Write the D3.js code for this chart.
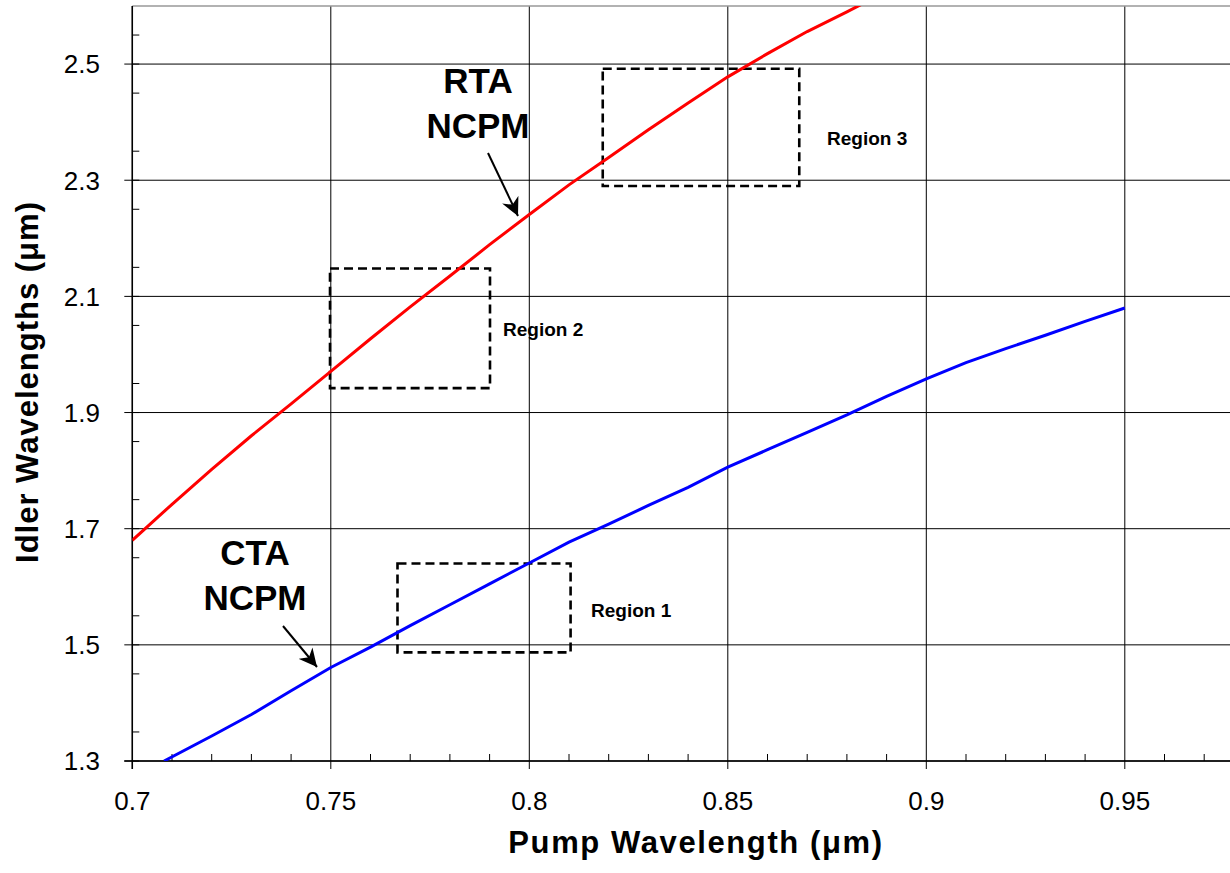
<!DOCTYPE html>
<html><head><meta charset="utf-8">
<script src="https://cdn.jsdelivr.net/npm/d3@7"></script>
<style>
body{margin:0;background:#fff;}
svg{display:block;font-family:"Liberation Sans",Arial,sans-serif;}
</style></head><body>
<svg id="c" width="1230" height="873"></svg>
<script>
// ---- data ----
const rtaPump  = [0.70,0.71,0.72,0.73,0.74,0.75,0.76,0.77,0.78,0.79,0.80,0.81,0.82,0.83,0.84,0.85,0.86,0.87,0.88,0.89];
const rtaIdler = [1.680,1.742,1.802,1.860,1.915,1.971,2.027,2.082,2.135,2.189,2.241,2.292,2.339,2.387,2.433,2.478,2.518,2.556,2.590,2.625];
const ctaPump  = [0.708,0.72,0.73,0.74,0.75,0.76,0.77,0.78,0.79,0.80,0.81,0.82,0.83,0.84,0.85,0.86,0.87,0.88,0.89,0.90,0.91,0.92,0.93,0.94,0.95];
const ctaIdler = [1.300,1.343,1.380,1.421,1.461,1.496,1.533,1.569,1.605,1.641,1.677,1.708,1.740,1.771,1.806,1.836,1.866,1.896,1.928,1.958,1.986,2.010,2.033,2.057,2.080];
const xTicks = [0.7,0.75,0.8,0.85,0.9,0.95];
const xTickLabels = ["0.7","0.75","0.8","0.85","0.9","0.95"];
const yTicks = [1.3,1.5,1.7,1.9,2.1,2.3,2.5];
const yTickLabels = ["1.3","1.5","1.7","1.9","2.1","2.3","2.5"];
const regionNames = ["Region 1","Region 2","Region 3"];
const regionX0 = [0.7668,0.7498,0.8185];
const regionX1 = [0.8104,0.7901,0.8680];
const regionY0 = [1.487,1.942,2.290];
const regionY1 = [1.640,2.148,2.492];
const seriesNames = [["CTA","NCPM"],["RTA","NCPM"]];

// ---- scales ----
const svg = d3.select("#c");
const x = d3.scaleLinear().domain([0.7,0.98]).range([132.3,132.3+0.28*3970]);
const y = d3.scaleLinear().domain([1.3,2.6]).range([761,6]);
const W = 1230;

const defs = svg.append("defs");
defs.append("clipPath").attr("id","clip").append("rect")
  .attr("x",x(0.7)).attr("y",y(2.6)).attr("width",W-x(0.7)).attr("height",y(1.3)-y(2.6));
defs.append("marker").attr("id","arr").attr("viewBox","0 0 10 10").attr("refX",10).attr("refY",5)
  .attr("markerWidth",18).attr("markerHeight",18).attr("markerUnits","userSpaceOnUse").attr("orient","auto")
  .append("path").attr("d","M0,0 L10,5 L0,10 L3,5 Z").attr("fill","#000");

// gridlines
const g = svg.append("g");
g.selectAll(".vg").data(xTicks).enter().append("line")
  .attr("x1",d=>x(d)).attr("x2",d=>x(d)).attr("y1",y(2.6)).attr("y2",y(1.3)+8)
  .attr("stroke","#000").attr("stroke-width",1);
g.selectAll(".hg").data(yTicks).enter().append("line")
  .attr("x1",x(0.7)-8).attr("x2",W).attr("y1",d=>y(d)).attr("y2",d=>y(d))
  .attr("stroke","#000").attr("stroke-width",1);
// top border
g.append("line").attr("x1",x(0.7)).attr("x2",W).attr("y1",y(2.6)).attr("y2",y(2.6))
  .attr("stroke","#999").attr("stroke-width",1.5);

// minor ticks
const xMinor = d3.range(0.70,0.981,0.01).filter(v=>Math.abs(v*20-Math.round(v*20))>1e-6);
g.selectAll(".xm").data(xMinor).enter().append("line")
  .attr("x1",d=>x(d)).attr("x2",d=>x(d)).attr("y1",y(1.3)).attr("y2",y(1.3)-7)
  .attr("stroke","#000").attr("stroke-width",1);
const yMinor = d3.range(1.3,2.601,0.05).filter(v=>Math.abs(v*5-Math.round(v*5))>1e-6);
g.selectAll(".ym").data(yMinor).enter().append("line")
  .attr("x1",x(0.7)).attr("x2",x(0.7)+7).attr("y1",d=>y(d)).attr("y2",d=>y(d))
  .attr("stroke","#000").attr("stroke-width",1);

// axes lines
g.append("line").attr("x1",x(0.7)).attr("x2",x(0.7)).attr("y1",y(2.6)).attr("y2",y(1.3)+8)
  .attr("stroke","#000").attr("stroke-width",1.5);
g.append("line").attr("x1",x(0.7)-8).attr("x2",W).attr("y1",y(1.3)).attr("y2",y(1.3))
  .attr("stroke","#000").attr("stroke-width",1.5);

// tick labels
svg.selectAll(".xl").data(xTicks).enter().append("text")
  .attr("x",d=>x(d)).attr("y",810).attr("text-anchor","middle")
  .attr("font-size",26).text((d,i)=>xTickLabels[i]);
svg.selectAll(".yl").data(yTicks).enter().append("text")
  .attr("x",100).attr("y",d=>y(d)).attr("dy","0.36em").attr("text-anchor","end")
  .attr("font-size",26).text((d,i)=>yTickLabels[i]);

// axis titles
svg.append("text").attr("x",696).attr("y",853).attr("text-anchor","middle")
  .attr("font-size",31).attr("font-weight","bold").attr("letter-spacing","1.6")
  .text("Pump Wavelength (\u03bcm)");
svg.append("text").attr("transform","translate(38,382) rotate(-90)").attr("text-anchor","middle")
  .attr("font-size",31).attr("font-weight","bold").attr("letter-spacing","1")
  .text("Idler Wavelengths (\u03bcm)");

// region boxes
const plot = svg.append("g").attr("clip-path","url(#clip)");
plot.selectAll(".rb").data(regionNames).enter().append("rect")
  .attr("x",(d,i)=>x(regionX0[i])).attr("y",(d,i)=>y(regionY1[i]))
  .attr("width",(d,i)=>x(regionX1[i])-x(regionX0[i])).attr("height",(d,i)=>y(regionY0[i])-y(regionY1[i]))
  .attr("fill","none").attr("stroke","#000").attr("stroke-width",2.6).attr("stroke-dasharray","9,5");

// curves
const line = d3.line().x(d=>x(d[0])).y(d=>y(d[1]));
plot.append("path").datum(rtaPump.map((p,i)=>[p,rtaIdler[i]])).attr("d",line)
  .attr("fill","none").attr("stroke","#ff0000").attr("stroke-width",3);
plot.append("path").datum(ctaPump.map((p,i)=>[p,ctaIdler[i]])).attr("d",line)
  .attr("fill","none").attr("stroke","#0000ff").attr("stroke-width",3);

// region labels
const regLabelPos = [[591,617],[503,336],[827,145]];
svg.selectAll(".rl").data(regionNames).enter().append("text")
  .attr("x",(d,i)=>regLabelPos[i][0]).attr("y",(d,i)=>regLabelPos[i][1])
  .attr("font-size",19).attr("font-weight","bold").text(d=>d);

// series labels
const labPos = [[255,565],[478,93]];
seriesNames.forEach((s,i)=>{
  svg.append("text").attr("x",labPos[i][0]).attr("y",labPos[i][1]).attr("text-anchor","middle")
    .attr("font-size",35).attr("font-weight","bold").text(s[0]);
  svg.append("text").attr("x",labPos[i][0]).attr("y",labPos[i][1]+45).attr("text-anchor","middle")
    .attr("font-size",35).attr("font-weight","bold").text(s[1]);
});
// arrows
const arrows = [[283,626,317,667],[488,153,518,216]];
svg.selectAll(".ar").data(arrows).enter().append("line")
  .attr("x1",d=>d[0]).attr("y1",d=>d[1]).attr("x2",d=>d[2]).attr("y2",d=>d[3])
  .attr("stroke","#000").attr("stroke-width",2).attr("marker-end","url(#arr)");
</script>
</body></html>
